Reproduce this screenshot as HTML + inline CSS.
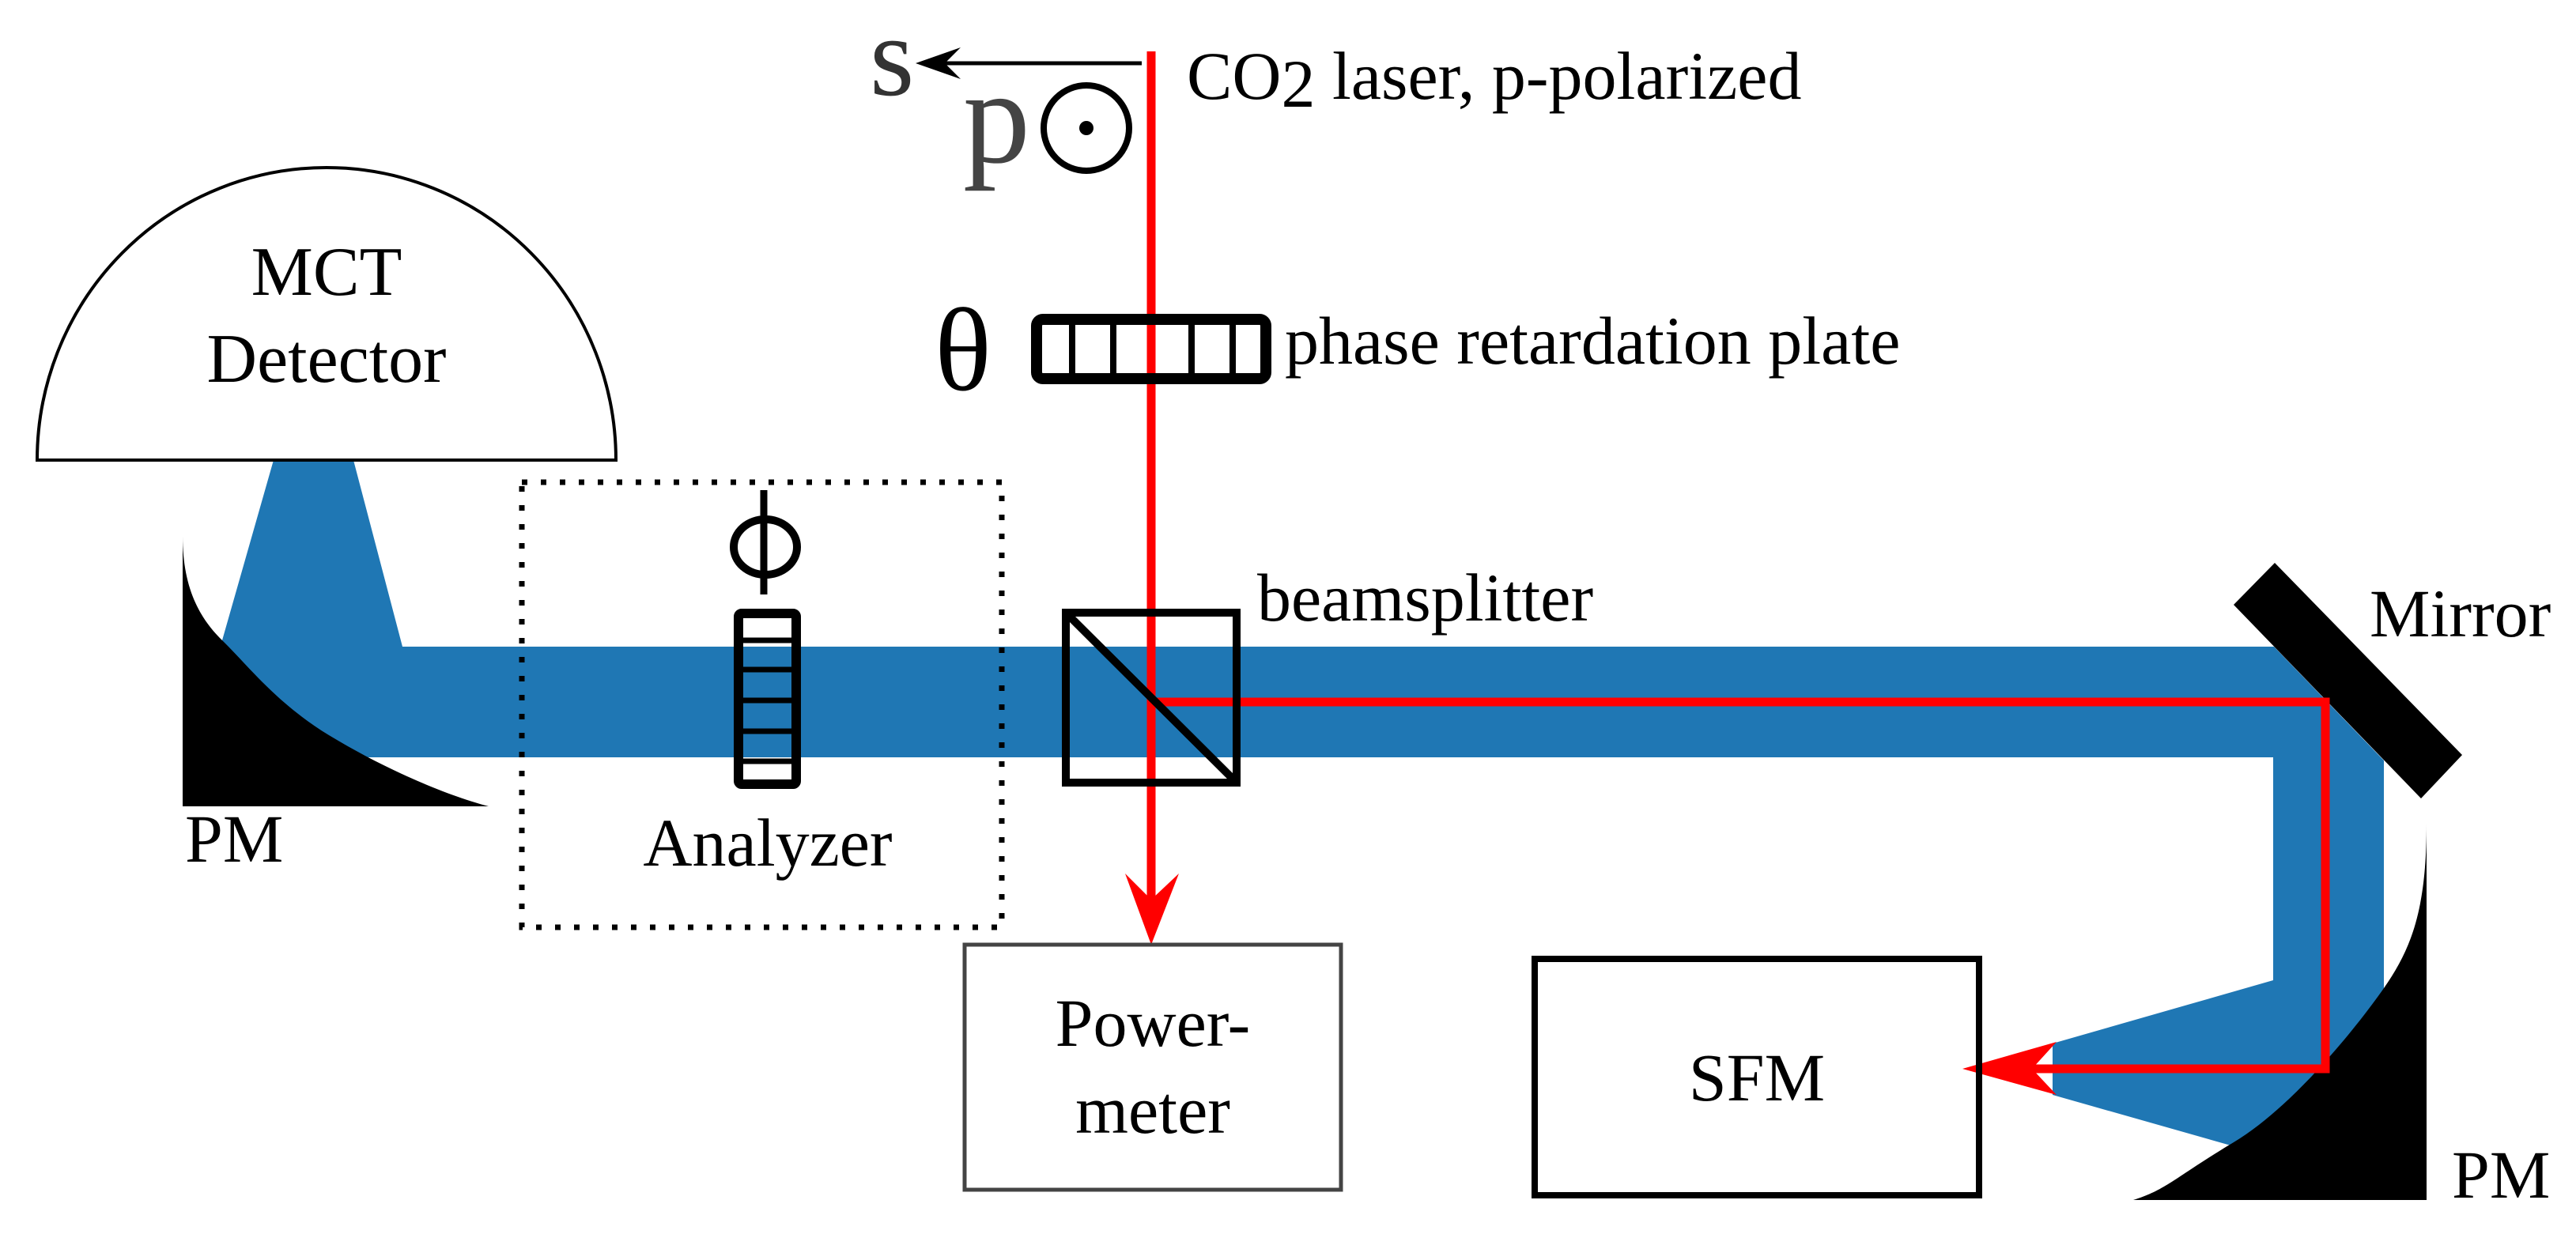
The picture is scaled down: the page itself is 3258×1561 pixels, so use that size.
<!DOCTYPE html>
<html><head><meta charset="utf-8"><style>
html,body{margin:0;padding:0;background:#fff;}
svg{display:block;}
text{font-family:"Liberation Serif",serif;fill:#000;}
</style></head><body>
<svg width="3258" height="1561" viewBox="0 0 3258 1561" xmlns="http://www.w3.org/2000/svg">
<!-- blue beam -->
<polygon fill="#1f77b4" points="346,582 447,582 509,818 2876,818 3015,962 3015,1490 2860,1460 2596,1385 2596,1320 2875,1240 2875,958 231,958 231,830 281,810"/>
<!-- left PM -->
<path fill="#000" d="M231,678 C231,740 250,780 281,810 S350,890 416,930 S560,1005 618,1020 L231,1020 Z"/>
<!-- right PM -->
<path fill="#000" d="M3069,1042 C3069,1150 3050,1200 3015,1250 S2900,1400 2825,1445 S2740,1505 2698,1518 L3069,1518 Z"/>
<!-- mirror -->
<polygon fill="#000" points="2877,712 2825,765 3062,1010 3114,955"/>
<!-- MCT dome -->
<path d="M47,582 A366,370 0 0 1 779,582 Z" fill="#fff" stroke="#000" stroke-width="4"/>
<text x="413" y="373" font-size="88" text-anchor="middle">MCT</text>
<text x="413" y="483" font-size="88" text-anchor="middle">Detector</text>
<text x="234" y="1090" font-size="86">PM</text>
<!-- dotted box -->
<rect x="660" y="610" width="607" height="563" fill="none" stroke="#000" stroke-width="7" stroke-dasharray="7 17"/>
<!-- phi -->
<line x1="966" y1="620" x2="966" y2="752" stroke="#000" stroke-width="9"/>
<ellipse cx="968" cy="692" rx="40" ry="35" fill="none" stroke="#000" stroke-width="10"/>
<!-- analyzer plate -->
<rect x="934" y="776" width="73" height="216" fill="none" stroke="#000" stroke-width="12" rx="4"/>
<g stroke="#000" stroke-width="7">
<line x1="934" y1="810" x2="1007" y2="810"/><line x1="934" y1="847" x2="1007" y2="847"/>
<line x1="934" y1="886" x2="1007" y2="886"/><line x1="934" y1="925" x2="1007" y2="925"/>
<line x1="934" y1="963" x2="1007" y2="963"/></g>
<text x="971" y="1095" font-size="86" text-anchor="middle">Analyzer</text>
<!-- red beam -->
<polyline points="1456,65 1456,1140" fill="none" stroke="#ff0000" stroke-width="11"/>
<polyline points="1456,888 2941,888 2941,1352 2570,1352" fill="none" stroke="#ff0000" stroke-width="11"/>
<polygon fill="#ff0000" points="1456,1195 1423,1105 1456,1138 1491,1105"/>
<polygon fill="#ff0000" points="2482,1352 2601,1318 2570,1352 2601,1385"/>
<!-- beamsplitter -->
<rect x="1348" y="775" width="216" height="215" fill="none" stroke="#000" stroke-width="10"/>
<line x1="1348" y1="775" x2="1564" y2="990" stroke="#000" stroke-width="10"/>
<text x="1590" y="785" font-size="86">beamsplitter</text>
<!-- retardation plate -->
<rect x="1311" y="404" width="290" height="75" fill="none" stroke="#000" stroke-width="14" rx="8"/>
<g stroke="#000" stroke-width="8">
<line x1="1356" y1="404" x2="1356" y2="479"/><line x1="1408" y1="404" x2="1408" y2="479"/>
<line x1="1507" y1="404" x2="1507" y2="479"/><line x1="1559" y1="404" x2="1559" y2="479"/></g>
<line x1="1456" y1="404" x2="1456" y2="479" stroke="#000" stroke-width="8"/>
<line x1="1456" y1="411" x2="1456" y2="472" stroke="#ff0000" stroke-width="11"/>
<text x="1218" y="493" font-size="150" text-anchor="middle">θ</text>
<text x="1625" y="460" font-size="86">phase retardation plate</text>
<!-- polarization -->
<line x1="1444" y1="80" x2="1190" y2="80" stroke="#000" stroke-width="5"/>
<polygon fill="#000" points="1158,80 1215,60 1195,80 1215,100"/>
<text x="1100" y="120" font-size="145" fill="#333" style="fill:#333">s</text>
<text x="1218" y="205" font-size="170" style="fill:#444">p</text>
<circle cx="1374" cy="162" r="54" fill="none" stroke="#000" stroke-width="8"/>
<circle cx="1374" cy="162" r="9" fill="#000"/>
<text x="1501" y="125" font-size="86">CO<tspan dy="10">2</tspan><tspan dy="-10"> laser, p-polarized</tspan></text>
<!-- powermeter -->
<rect x="1220" y="1195" width="476" height="310" fill="none" stroke="#444" stroke-width="5"/>
<text x="1458" y="1323" font-size="86" text-anchor="middle">Power-</text>
<text x="1458" y="1433" font-size="86" text-anchor="middle">meter</text>
<!-- SFM -->
<rect x="1941" y="1213" width="562" height="299" fill="none" stroke="#000" stroke-width="8"/>
<text x="2222" y="1392" font-size="86" text-anchor="middle">SFM</text>
<text x="2997" y="805" font-size="86">Mirror</text>
<text x="3101" y="1515" font-size="86">PM</text>
</svg>
</body></html>
